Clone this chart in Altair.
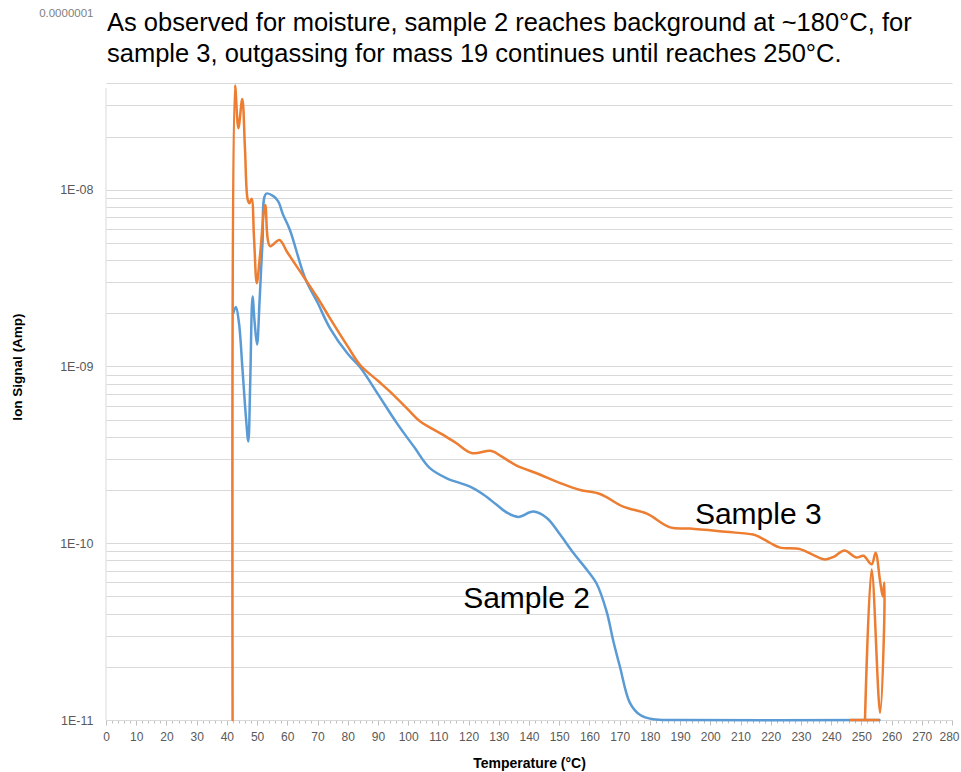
import altair as alt
import pandas as pd

# ---------------- data ----------------
title_lines = [
    "As observed for moisture, sample 2 reaches background at ~180°C, for",
    "sample 3, outgassing for mass 19 continues until reaches 250°C.",
]

# Sample 2 (blue)
s2_temp = [42.1, 43.0, 44.0, 45.2, 46.3, 47.1, 47.7, 48.5, 49.2, 50.0, 50.8, 51.8,
           53.0, 55.4, 57.0, 58.5, 60.9, 65.9, 70.0, 74.1, 80.0, 84.1, 90.0, 96.2,
           102.0, 107.2, 112.8, 120.5, 125.0, 129.3, 133.0, 136.5, 141.4, 145.9,
           150.3, 154.7, 159.1, 162.4, 165.7, 167.9, 170.1, 173.4, 176.7, 181.1,
           190.0, 256.0]
s2_signal = [2.0e-9, 2.17e-9, 1.77e-9, 9.5e-10, 5.2e-10, 3.77e-10, 7.7e-10, 2.49e-9,
             1.77e-9, 1.33e-9, 2.3e-9, 5.0e-9, 9.5e-9, 9.2e-9, 8.6e-9, 7.3e-9, 5.9e-9,
             3.16e-9, 2.3e-9, 1.65e-9, 1.18e-9, 9.9e-10, 6.98e-10, 4.8e-10, 3.5e-10,
             2.66e-10, 2.33e-10, 2.09e-10, 1.88e-10, 1.65e-10, 1.48e-10, 1.41e-10,
             1.51e-10, 1.39e-10, 1.12e-10, 8.8e-11, 7.1e-11, 5.9e-11, 4.1e-11, 2.8e-11,
             2.0e-11, 1.25e-11, 1.07e-11, 1.01e-11, 1.0e-11, 1.0e-11]

# Sample 3 (orange), in acquisition order
s3_temp = [41.9, 42.7, 43.8, 45.1, 46.0, 46.9, 47.5, 48.2, 49.0, 49.9, 51.0, 52.7,
           54.3, 57.4, 60.0, 65.3, 70.0, 74.1, 80.0, 84.1, 90.0, 94.0, 100.0, 103.9,
           111.6, 116.0, 121.0, 127.6, 131.0, 135.9, 142.5, 150.3, 156.9, 163.5,
           171.2, 179.0, 186.7, 193.3, 205.0, 214.2, 216.5, 220.0, 223.1, 229.7,
           234.0, 238.0, 241.0, 244.4, 248.4, 250.7, 253.4, 254.7, 256.2, 257.1,
           257.6, 257.5, 256.2, 253.4, 251.2]
s3_signal = [1.0e-11, 3.9e-8, 2.23e-8, 3.26e-8, 1.7e-8, 8.8e-9, 8.4e-9, 8.9e-9, 5.3e-9,
             2.96e-9, 4.3e-9, 8.2e-9, 4.8e-9, 5.2e-9, 4.43e-9, 3.24e-9, 2.45e-9,
             1.88e-9, 1.3e-9, 1.02e-9, 8.3e-10, 7.2e-10, 5.7e-10, 4.9e-10, 4.1e-10,
             3.68e-10, 3.24e-10, 3.33e-10, 3.09e-10, 2.75e-10, 2.49e-10, 2.19e-10,
             2.0e-10, 1.9e-10, 1.61e-10, 1.47e-10, 1.23e-10, 1.21e-10, 1.16e-10,
             1.12e-10, 1.08e-10, 1.0e-10, 9.45e-11, 9.26e-11, 8.6e-11, 8.1e-11,
             8.4e-11, 9.1e-11, 8.3e-11, 8.5e-11, 7.6e-11, 8.85e-11, 6.1e-11, 5.0e-11,
             6.0e-11, 3.2e-11, 1.1e-11, 7.1e-11, 1.0e-11]
s3_tail_temp = [246.2, 255.8]
s3_tail_signal = [1.0e-11, 1.0e-11]

ann_text = ["Sample 3", "Sample 2"]
ann_temp = [194.9, 118.2]
ann_signal = [1.29e-10, 4.32e-11]

x_ticks = list(range(0, 281, 2))
y_decades = [-11, -10, -9, -8]
y_mult = [1, 2, 3, 4, 5, 6, 7, 8, 9]
y_grid = [m * 10.0 ** e for e in y_decades for m in y_mult if m * 10.0 ** e <= 4.01e-8] + [1e-7]

FONT = "Liberation Sans"
BLUE = "#5B9BD5"
ORANGE = "#ED7D31"

# ---------------- tables ----------------
df2 = pd.DataFrame({"T": s2_temp, "S": s2_signal, "i": range(len(s2_temp))})
df3 = pd.DataFrame({"T": s3_temp, "S": s3_signal, "i": range(len(s3_temp))})
df3t = pd.DataFrame({"T": s3_tail_temp, "S": s3_tail_signal, "i": range(len(s3_tail_temp))})
dfa = pd.DataFrame({"T": ann_temp, "S": ann_signal, "txt": ann_text})
one = pd.DataFrame({"k": [0]})

# ---------------- scales / axes ----------------
x_scale = alt.Scale(domain=[0, 280], nice=False, zero=False)
y_scale = alt.Scale(type="log", domain=[1e-11, 1e-7], nice=False)

x_axis = alt.Axis(
    values=x_ticks,
    format="d",
    labelExpr="datum.value % 10 === 0 ? datum.label : ''",
    grid=False,
    domainColor="#D9D9D9",
    domainWidth=1,
    tickColor="#BFBFBF",
    tickSize={"condition": {"test": "datum.value % 10 === 0", "value": 5}, "value": 3},
    labelPadding=6,
    labelOffset={"condition": {"test": "datum.value === 280", "value": -3}, "value": 0},
    labelFlush=False,
    labelOverlap=False,
    labelFont=FONT,
    labelFontSize=12,
    labelColor="#595959",
    title="Temperature (°C)",
    titleFont=FONT,
    titleFontSize=14,
    titleFontWeight="bold",
    titleColor="#000000",
    titleY=47,
    titleBaseline="alphabetic",
)

dec_test = "abs(log(datum.value)/LN10 - round(log(datum.value)/LN10)) > 0.01"
y_axis = alt.Axis(
    values=y_grid,
    labelExpr=(dec_test + " ? '' : (datum.value > 5e-8 ? '0.0000001' : "
               "'1E-' + (round(-log(datum.value)/LN10) < 10 ? '0' : '') + round(-log(datum.value)/LN10))"),
    grid=True,
    gridColor="#D9D9D9",
    gridWidth=1,
    gridOpacity={"condition": {"test": "datum.value > 5e-8", "value": 0}, "value": 1},
    ticks=False,
    domain=False,
    labelPadding=13,
    labelOverlap=False,
    labelBound=False,
    labelFont=FONT,
    labelFontSize={"condition": {"test": "datum.value > 5e-8", "value": 11.5}, "value": 12.5},
    labelColor={"condition": {"test": "datum.value > 5e-8", "value": "#7F7F7F"}, "value": "#595959"},
    title="Ion Signal (Amp)",
    titleFont=FONT,
    titleFontSize=13.5,
    titleFontWeight="bold",
    titleColor="#000000",
    titleAngle=270,
    titleX=-89,
    titleY=353.5,
    titleAlign="center",
    titleBaseline="middle",
)

X = alt.X("T:Q", scale=x_scale, axis=x_axis)
Y = alt.Y("S:Q", scale=y_scale, axis=y_axis)

# ---------------- layers ----------------
y_line = alt.Chart(one).mark_rule(color="#D9D9D9", strokeWidth=1).encode(
    x=alt.value(0), y=alt.value(75), y2=alt.value(707)
)

line_kw = dict(interpolate="catmull-rom", strokeWidth=2.5, strokeCap="round", strokeJoin="round")

blue = alt.Chart(df2).mark_line(color=BLUE, **line_kw).encode(x=X, y=Y, order=alt.Order("i:Q"))
orange = alt.Chart(df3).mark_line(color=ORANGE, **line_kw).encode(x=X, y=Y, order=alt.Order("i:Q"))
orange_tail = alt.Chart(df3t).mark_line(color=ORANGE, strokeWidth=2.5).encode(
    x=X, y=Y, order=alt.Order("i:Q")
)

ann = alt.Chart(dfa).mark_text(
    align="left", baseline="alphabetic", font=FONT, fontSize=30, color="#000000"
).encode(x=X, y=Y, text="txt:N")

title = alt.Chart(one).mark_text(
    align="left", baseline="alphabetic", font=FONT, fontSize=25.5, lineHeight=31,
    color="#000000", text=title_lines
).encode(x=alt.value(1), y=alt.value(18))

chart = alt.layer(y_line, blue, orange, orange_tail, ann, title).properties(
    width=846,
    height=707,
    padding={"left": 106, "top": 13, "right": 9, "bottom": 52},
    autosize=alt.AutoSizeParams(type="none"),
    background="white",
).configure_view(stroke=None)

chart.save("out.html", embed_options={"renderer": "svg", "actions": False})
